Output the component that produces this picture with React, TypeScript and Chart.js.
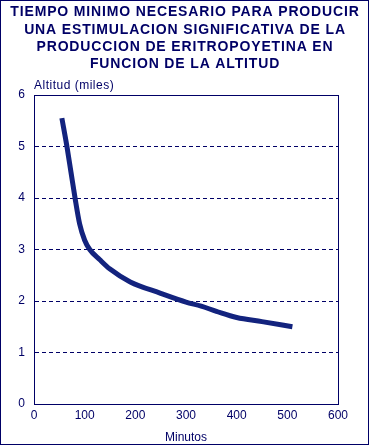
import React, { useEffect, useRef } from "react";
import { Chart, registerables } from "chart.js";

Chart.register(...registerables);

const titleLines = [
  "TIEMPO MINIMO NECESARIO PARA PRODUCIR",
  "UNA ESTIMULACION SIGNIFICATIVA DE LA",
  "PRODUCCION DE ERITROPOYETINA EN",
  "FUNCION DE LA ALTITUD",
];
const yAxisLabel = "Altitud (miles)";
const xAxisLabel = "Minutos";
const minutes = [55, 65, 73, 81, 90, 100, 110, 130, 150, 190, 250, 300, 330, 360, 400, 450, 510];
const altitude = [5.55, 5.0, 4.5, 4.0, 3.5, 3.18, 3.0, 2.8, 2.62, 2.37, 2.15, 1.98, 1.9, 1.8, 1.68, 1.6, 1.5];

const NAVY = "#000066";
const LINE = "#13237e";

export default function App() {
  const ref = useRef<HTMLCanvasElement | null>(null);
  useEffect(() => {
    document.body.style.margin = "0";
    const canvas = ref.current!;
    const framePlugin = {
      id: "frame",
      afterDraw(chart: any) {
        const { ctx, chartArea } = chart;
        ctx.save();
        ctx.strokeStyle = NAVY;
        ctx.lineWidth = 1;
        ctx.strokeRect(0.5, 0.5, chart.width - 1, chart.height - 1);
        ctx.strokeRect(
          Math.round(chartArea.left) + 0.5,
          Math.round(chartArea.top) + 0.5,
          Math.round(chartArea.right - chartArea.left),
          Math.round(chartArea.bottom - chartArea.top)
        );
        ctx.fillStyle = NAVY;
        ctx.font = "12px Arial";
        ctx.textAlign = "left";
        ctx.textBaseline = "bottom";
        (ctx as any).letterSpacing = "0.5px";
        ctx.fillText(yAxisLabel, chartArea.left, chartArea.top - 3);
        ctx.font = "bold 14px Arial";
        ctx.textAlign = "center";
        ctx.textBaseline = "middle";
        (ctx as any).letterSpacing = "0.85px";
        titleLines.forEach((t, i) => {
          ctx.fillText(t, chart.width / 2 + 0.5, 12.5 + i * 17.3);
        });
        ctx.restore();
      },
    };
    const chart = new Chart(canvas, {
      type: "line",
      data: {
        datasets: [
          {
            data: minutes.map((m, i) => ({ x: m, y: altitude[i] })),
            borderColor: LINE,
            borderWidth: 5,
            pointRadius: 0,
            tension: 0.4,
            cubicInterpolationMode: "monotone",
            fill: false,
          },
        ],
      },
      options: {
        animation: false,
        responsive: false,
        layout: { padding: { left: 0, right: 31, top: 95, bottom: 0 } },
        plugins: {
          legend: { display: false },
          tooltip: { enabled: false },
          title: { display: false },
        },
        scales: {
          x: {
            type: "linear",
            min: 0,
            max: 600,
            ticks: { stepSize: 100, color: NAVY, font: { family: "Arial", size: 12 }, padding: 4 },
            grid: { display: false, drawTicks: false },
            border: { color: NAVY },
            title: { display: true, text: xAxisLabel, color: NAVY, font: { family: "Arial", size: 12 }, padding: { top: 2, bottom: 0 } },
            afterFit(scale: any) {
              scale.height = 41;
            },
          },
          y: {
            min: 0,
            max: 6,
            ticks: { stepSize: 1, color: NAVY, font: { family: "Arial", size: 12 }, padding: 9 },
            grid: {
              drawTicks: false,
              color: (c: any) => (c.tick && (c.tick.value === 0 || c.tick.value === 6) ? "rgba(0,0,0,0)" : NAVY),
            },
            border: { color: NAVY, dash: [4, 3] },
            afterFit(scale: any) {
              scale.width = 34;
            },
          },
        },
      } as any,
      plugins: [framePlugin],
    });
    return () => chart.destroy();
  }, []);
  return <canvas ref={ref} width={369} height={445} style={{ display: "block" }} />;
}
